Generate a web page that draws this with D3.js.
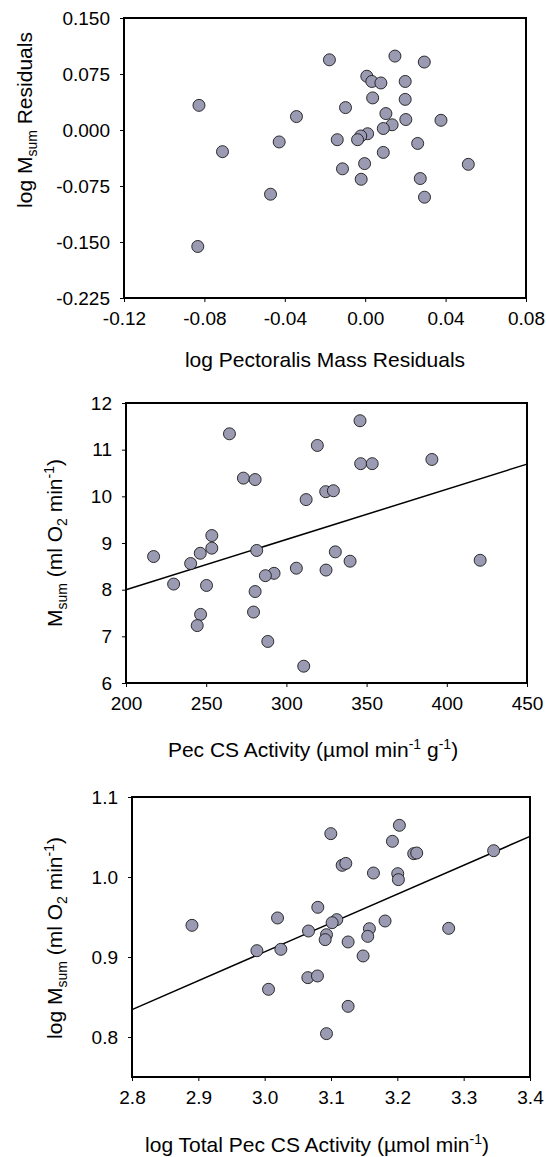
<!DOCTYPE html>
<html>
<head>
<meta charset="utf-8">
<script src="https://cdn.jsdelivr.net/npm/d3@7/dist/d3.min.js"></script>
<style>
  html, body { margin: 0; padding: 0; background: #fff; }
  svg { display: block; font-family: Arial, "Liberation Sans", sans-serif; }
  .tick text { font-size: 19px; fill: #000; }
  .tick line { stroke: #000; stroke-width: 1; }
  .title { font-size: 21px; fill: #000; }
</style>
</head>
<body>
<div id="chart"></div>
<script>
// --- data ---

// panel A: log pectoralis mass residuals vs log Msum residuals
const pecMassResid = [-0.0178, 0.0148, 0.0294, 0.0008, 0.0033, 0.0078, 0.0199, -0.0827, 0.0037, 0.0199,
  -0.0098, -0.0342, 0.0103, 0.0202, 0.0377, 0.0134, 0.0090, 0.0012, -0.0022, -0.0038,
  -0.0139, -0.0428, 0.0261, -0.0710, 0.0090, -0.0003, 0.0513, -0.0113, -0.0020, 0.0274,
  0.0295, -0.0471, -0.0833];
const msumResid = [0.094, 0.099, 0.091, 0.072, 0.065, 0.063, 0.065, 0.033, 0.043, 0.041,
  0.030, 0.018, 0.022, 0.014, 0.013, 0.007, 0.002, -0.005, -0.008, -0.013,
  -0.013, -0.016, -0.018, -0.029, -0.030, -0.045, -0.046, -0.052, -0.066, -0.065,
  -0.090, -0.086, -0.156];
const xTicksA = [-0.12, -0.08, -0.04, 0.00, 0.04, 0.08];
const yTicksA = [-0.225, -0.150, -0.075, 0.000, 0.075, 0.150];

// panel B: pec CS activity vs Msum
const pecCS = [345.9, 264.5, 319.3, 346.3, 353.5, 390.7, 273.2, 280.5, 324.5, 329.3,
  312.3, 253.5, 253.5, 217.2, 246.3, 281.5, 330.5, 240.3, 339.7, 420.8,
  306.2, 324.7, 292.3, 286.9, 229.7, 250.2, 280.5, 246.5, 279.5, 244.4,
  288.4, 310.8];
const msum = [11.62, 11.34, 11.09, 10.70, 10.70, 10.79, 10.39, 10.36, 10.10, 10.12,
  9.93, 9.16, 8.89, 8.71, 8.78, 8.84, 8.81, 8.56, 8.61, 8.63,
  8.46, 8.42, 8.35, 8.30, 8.12, 8.09, 7.96, 7.47, 7.52, 7.23,
  6.89, 6.36];
const fitB = { slope: 0.01076, intercept: 5.848 };
const xTicksB = [200, 250, 300, 350, 400, 450];
const yTicksB = [6, 7, 8, 9, 10, 11, 12];

// panel C: log total pec CS activity vs log Msum
const logTotalCS = [3.2031, 3.0997, 3.1926, 3.2247, 3.2292, 3.3452, 3.1168, 3.1223, 3.1640, 3.2006,
  3.2016, 3.0801, 3.0194, 2.8904, 3.1087, 3.1017, 3.1815, 3.2774, 3.0661, 3.1579,
  3.1554, 3.0932, 3.0912, 3.1258, 2.9883, 3.0244, 3.1484, 3.0651, 3.0796, 3.0058,
  3.1258, 3.0932];
const logMsum = [1.0646, 1.0542, 1.0446, 1.0292, 1.0300, 1.0329, 1.0146, 1.0170, 1.0050, 1.0042,
  0.9967, 0.9621, 0.9488, 0.9396, 0.9467, 0.9429, 0.9450, 0.9358, 0.9325, 0.9354,
  0.9258, 0.9279, 0.9217, 0.9188, 0.9079, 0.9096, 0.9013, 0.8742, 0.8763, 0.8596,
  0.8383, 0.8042];
const fitC = { slope: 0.361, intercept: -0.1766 };
const xTicksC = [2.8, 2.9, 3.0, 3.1, 3.2, 3.3, 3.4];
const yTicksC = [0.8, 0.9, 1.0, 1.1];

const W = 546, H = 1157;
const svg = d3.select('#chart').append('svg').attr('width', W).attr('height', H);

// plain hyphen for negatives, like the original figure
const fmt = (spec) => {
  const f = d3.format(spec);
  return (d) => f(d).replace('\u2212', '-');
};

// title pieces: [text, kind] where kind is '', 'sub', 'sup' or the matching '...End'
function addTitle(g, pieces, x, y, rotate) {
  const t = g.append('text')
    .attr('class', 'title')
    .attr('text-anchor', 'middle')
    .attr('transform', `translate(${x},${y})` + (rotate ? ' rotate(-90)' : ''));
  pieces.forEach(([s, kind]) => {
    const sp = t.append('tspan').text(s);
    if (kind === 'sub') sp.attr('font-size', 14).attr('dy', 5);
    else if (kind === 'sup') sp.attr('font-size', 14).attr('dy', -8);
    else if (kind === 'subEnd') sp.attr('dy', -5);
    else if (kind === 'supEnd') sp.attr('dy', 8);
  });
}

function panel(opts) {
  const { box, xDomain, yDomain, xTicks, yTicks, xFmt, yFmt, xs, ys, fit } = opts;
  const g = svg.append('g');
  const x = d3.scaleLinear().domain(xDomain).range([box.left, box.right]);
  const y = d3.scaleLinear().domain(yDomain).range([box.bottom, box.top]);

  g.append('g')
    .attr('transform', `translate(0,${box.bottom})`)
    .call(d3.axisBottom(x).tickValues(xTicks).tickFormat(fmt(xFmt)).tickSize(4).tickPadding(10))
    .call(a => a.select('.domain').remove())
    .call(a => a.selectAll('text').attr('font-family', null).attr('font-size', null));

  g.append('g')
    .attr('transform', `translate(${box.left},0)`)
    .call(d3.axisLeft(y).tickValues(yTicks).tickFormat(fmt(yFmt)).tickSize(4).tickPadding(10))
    .call(a => a.select('.domain').remove())
    .call(a => a.selectAll('text').attr('font-family', null).attr('font-size', null));

  if (fit) {
    const line = d3.line().x(d => x(d)).y(d => y(fit.intercept + fit.slope * d));
    g.append('path')
      .datum(xDomain)
      .attr('d', line)
      .attr('fill', 'none')
      .attr('stroke', '#000')
      .attr('stroke-width', 1.5);
  }

  g.append('g').selectAll('circle')
    .data(d3.zip(xs, ys))
    .join('circle')
    .attr('cx', d => x(d[0]))
    .attr('cy', d => y(d[1]))
    .attr('r', 6)
    .attr('fill', '#9a9ab2')
    .attr('stroke', '#1a1a1a')
    .attr('stroke-width', 0.9);

  g.append('rect')
    .attr('x', box.left).attr('y', box.top)
    .attr('width', box.right - box.left).attr('height', box.bottom - box.top)
    .attr('fill', 'none').attr('stroke', '#000').attr('stroke-width', 2);

  return g;
}

const gA = panel({
  box: { left: 124, right: 526, top: 18, bottom: 298 },
  xDomain: [-0.12, 0.08], yDomain: [-0.225, 0.150],
  xTicks: xTicksA, yTicks: yTicksA, xFmt: '.2f', yFmt: '.3f',
  xs: pecMassResid, ys: msumResid
});
addTitle(gA, [['log Pectoralis Mass Residuals', '']], 325, 367, false);
addTitle(gA, [['log M', ''], ['sum', 'sub'], [' Residuals', 'subEnd']], 32, 120, true);

const gB = panel({
  box: { left: 126, right: 527, top: 403, bottom: 683 },
  xDomain: [200, 450], yDomain: [6, 12],
  xTicks: xTicksB, yTicks: yTicksB, xFmt: 'd', yFmt: 'd',
  xs: pecCS, ys: msum, fit: fitB
});
addTitle(gB, [['Pec CS Activity (\u00b5mol min', ''], ['-1', 'sup'], [' g', 'supEnd'], ['-1', 'sup'], [')', 'supEnd']], 313, 757, false);
addTitle(gB, [['M', ''], ['sum', 'sub'], [' (ml O', 'subEnd'], ['2', 'sub'], [' min', 'subEnd'], ['-1', 'sup'], [')', 'supEnd']], 62, 543, true);

const gC = panel({
  box: { left: 132, right: 530, top: 797, bottom: 1077 },
  xDomain: [2.8, 3.4], yDomain: [0.75, 1.1],
  xTicks: xTicksC, yTicks: yTicksC, xFmt: '.1f', yFmt: '.1f',
  xs: logTotalCS, ys: logMsum, fit: fitC
});
addTitle(gC, [['log Total Pec CS Activity (\u00b5mol min', ''], ['-1', 'sup'], [')', 'supEnd']], 317, 1152, false);
addTitle(gC, [['log M', ''], ['sum', 'sub'], [' (ml O', 'subEnd'], ['2', 'sub'], [' min', 'subEnd'], ['-1', 'sup'], [')', 'supEnd']], 62, 938, true);
</script>
</body>
</html>
